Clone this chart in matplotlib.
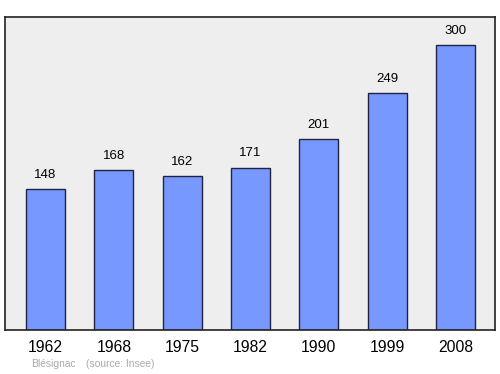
import matplotlib
matplotlib.use("Agg")
import matplotlib.pyplot as plt

plt.rcParams["font.family"] = ["Liberation Sans", "DejaVu Sans"]

years = ["1962", "1968", "1975", "1982", "1990", "1999", "2008"]
population = [148, 168, 162, 171, 201, 249, 300]
commune = "Blésignac"
source = "(source: Insee)"

fig = plt.figure(figsize=(5, 3.74), dpi=100)
ax = fig.add_axes([5/500, 1-330/374, 490/500, 313/374])
ax.set_facecolor("#eeeeee")
x = list(range(len(years)))
ax.bar(x, population, width=0.57, color="#7799ff", edgecolor="#222244", linewidth=1.0, zorder=2)
for xi, v in zip(x, population):
    ax.text(xi, v + 8.5, str(v), ha="center", va="bottom", fontsize=9.5, color="black")
ax.set_xlim(-0.593, 6.58)
ax.set_ylim(0, 329.5)
ax.set_yticks([])
ax.set_xticks(x)
ax.set_xticklabels(years, fontsize=11.3)
ax.tick_params(axis="x", length=0, pad=7)
for s in ax.spines.values():
    s.set_color("#222222")
    s.set_linewidth(1.2)
fig.text(31/500, 1-364/374, commune, fontsize=7.4, color="#aaaaaa", va="center", ha="left")
fig.text(86/500, 1-364/374, source, fontsize=7.4, color="#aaaaaa", va="center", ha="left")
fig.savefig("out.png", dpi=100, facecolor="white")
